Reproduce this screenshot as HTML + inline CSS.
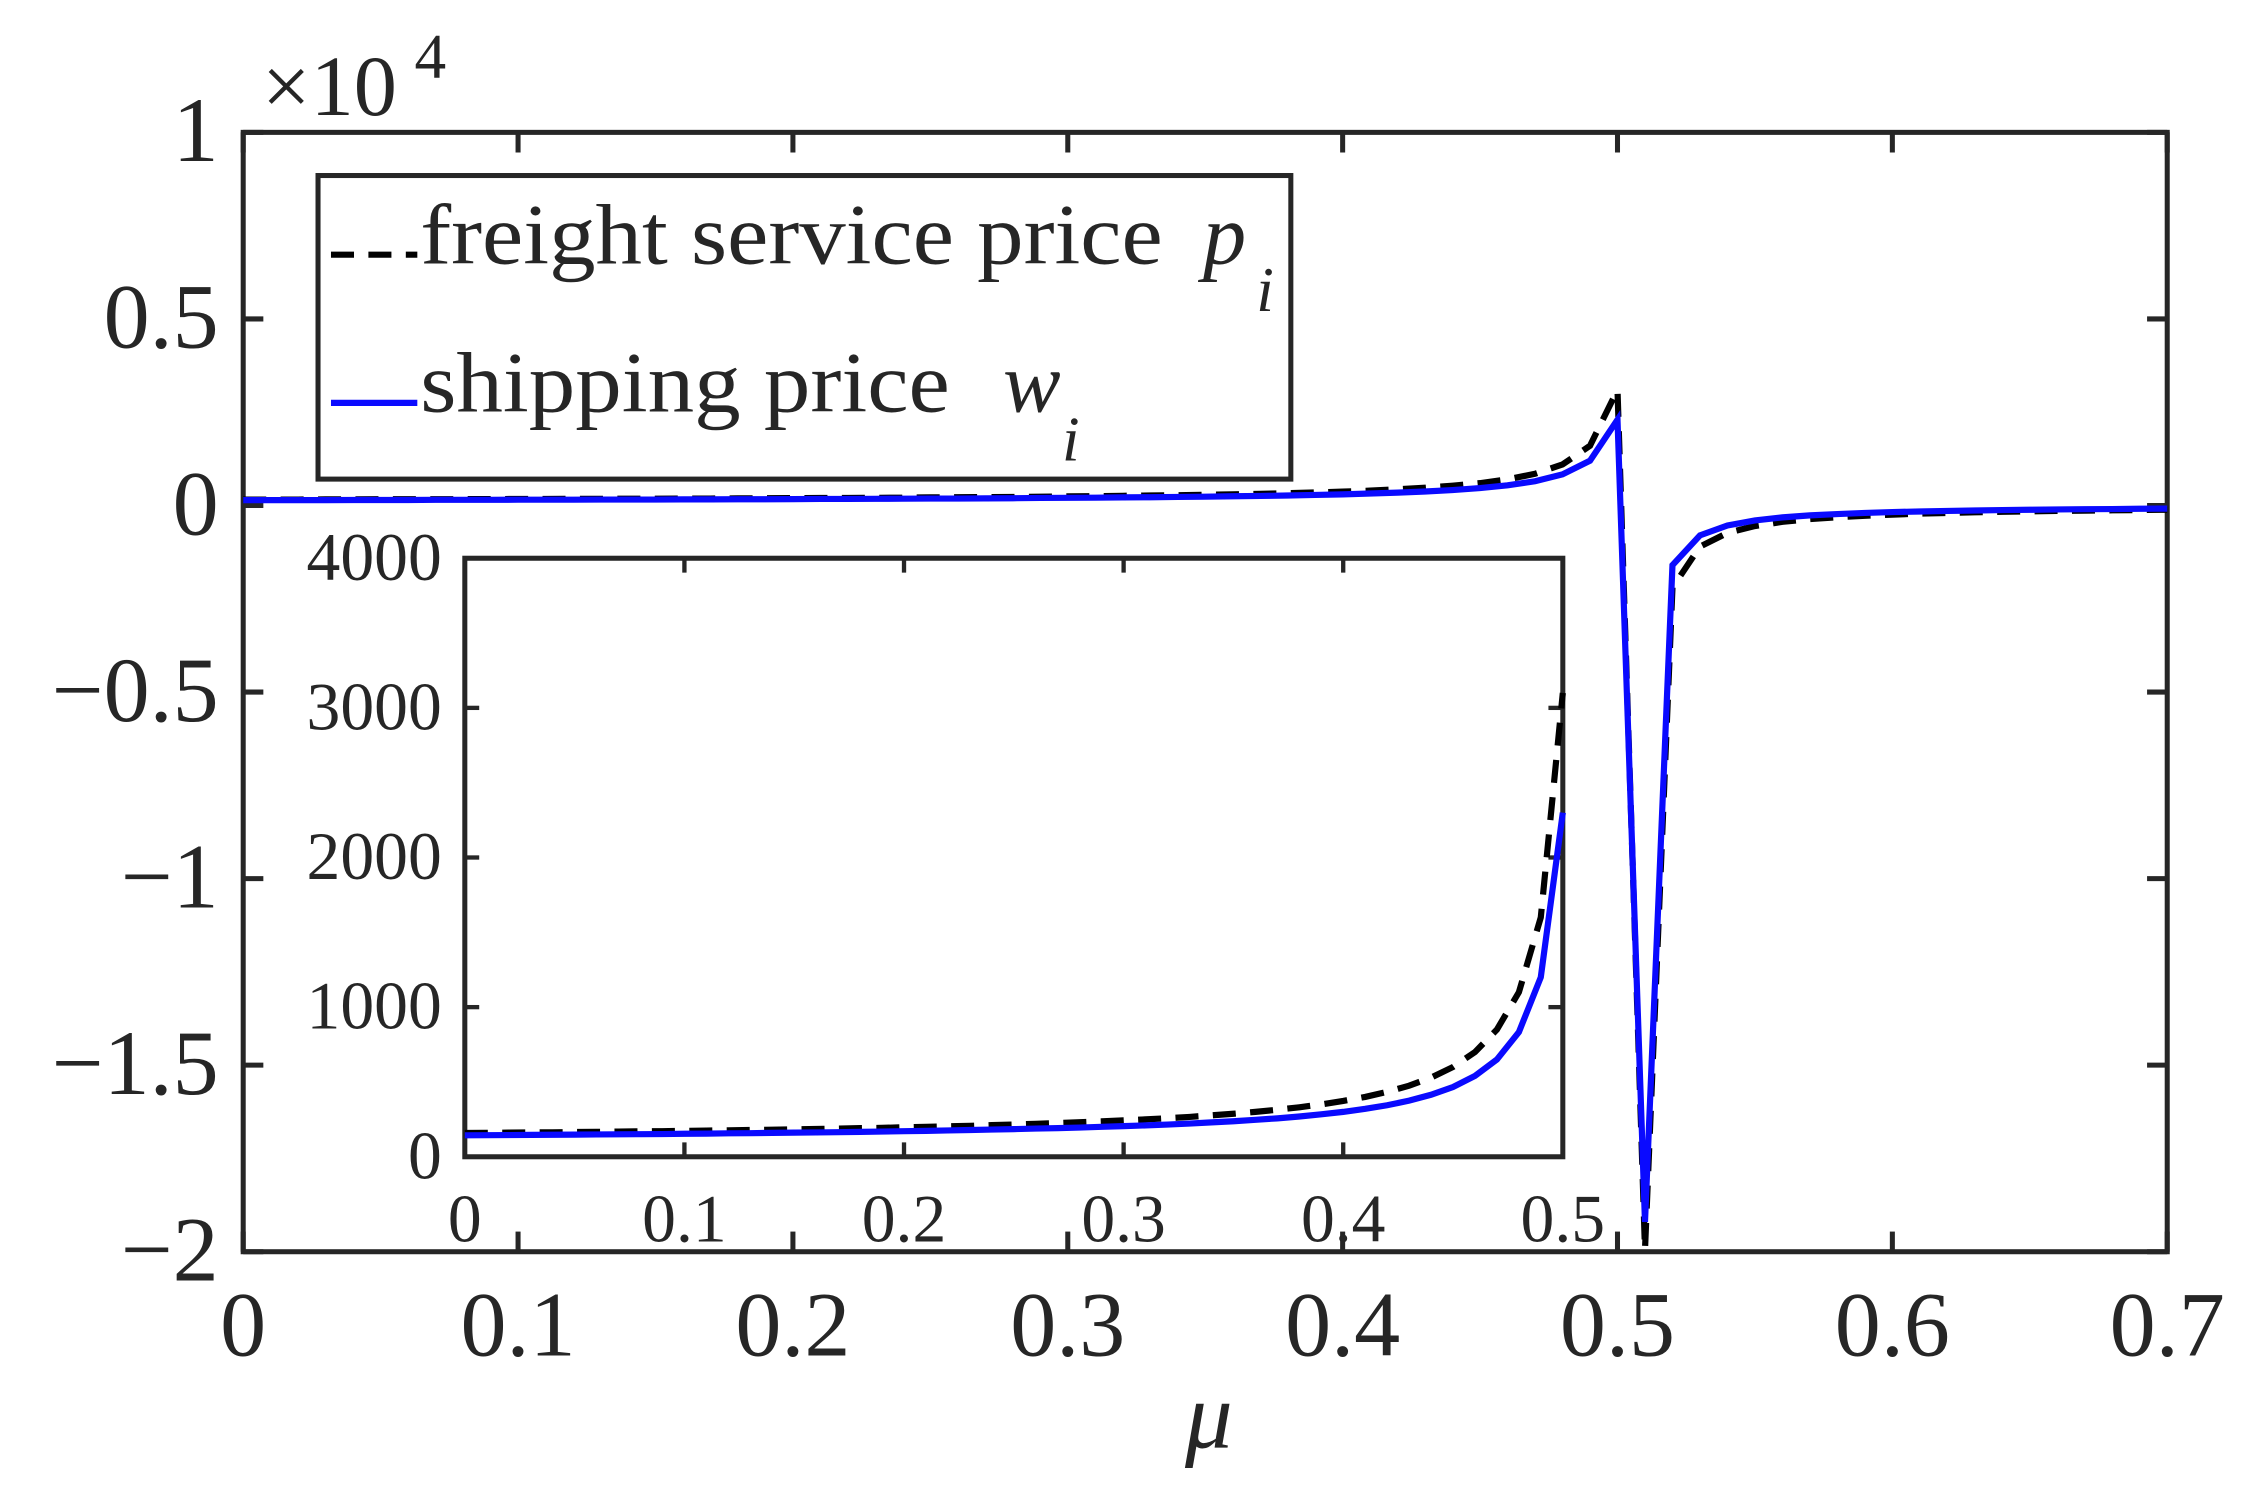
<!DOCTYPE html>
<html><head><meta charset="utf-8"><style>
html,body{margin:0;padding:0;background:#fff;}
svg{display:block;}
text{font-family:"Liberation Serif",serif;fill:#262626;}
</style></head><body>
<svg id="s" width="2255" height="1492" viewBox="0 0 1567 1037" preserveAspectRatio="none" xmlns="http://www.w3.org/2000/svg">
<rect x="0" y="0" width="1567" height="1037" fill="#fff"/>
<g id="main"></g>
</svg>
<script>
const NS="http://www.w3.org/2000/svg";
const s=document.getElementById('main');
function el(t,a,txt){const e=document.createElementNS(NS,t);for(const k in a)e.setAttribute(k,a[k]);if(txt!==undefined)e.textContent=txt;s.appendChild(e);return e;}
const X0=169,X1=1506,Y0=92,Y1=870;
const mx=m=>X0+(X1-X0)*m/0.7, my=v=>Y1-(Y1-Y0)*(v+20000)/30000;
function wf(m){ if(m<=0.5001) return 100+22/(0.51-m); if(Math.abs(m-0.51)<1e-6) return -19200; return -16/(m-0.51);}
function pf(m){ if(m<=0.5001) return 100+30/(0.51-m); if(Math.abs(m-0.51)<1e-6) return -19950; return -22/(m-0.51);}
let pts=[];for(let i=0;i<=70;i++)pts.push(i/100);
function path(f,sx,sy,arr){return arr.map((m,i)=>(i?'L':'M')+sx(m).toFixed(1)+' '+sy(f(m)).toFixed(1)).join(' ');}
el('rect',{x:X0,y:Y0,width:X1-X0,height:Y1-Y0,fill:'#fff',stroke:'#262626','stroke-width':3.5});
for(let i=0;i<=7;i++){const x=mx(i/10);el('line',{x1:x,y1:Y1,x2:x,y2:Y1-14,stroke:'#262626','stroke-width':3.5});el('line',{x1:x,y1:Y0,x2:x,y2:Y0+14,stroke:'#262626','stroke-width':3.5});
el('text',{x:x,y:942,'font-size':64,'text-anchor':'middle'},i?('0.'+i):'0');}
const yl=['1','0.5','0','\u22120.5','\u22121','\u22121.5','\u22122'];
for(let i=0;i<7;i++){const y=Y0+i*(Y1-Y0)/6;el('line',{x1:X0,y1:y,x2:X0+14,y2:y,stroke:'#262626','stroke-width':3.5});el('line',{x1:X1,y1:y,x2:X1-14,y2:y,stroke:'#262626','stroke-width':3.5});
el('text',{x:152,y:y+20,'font-size':64,'text-anchor':'end'},yl[i]);}
el('text',{x:182,y:80,'font-size':60},'\u00d710');
el('text',{x:288,y:54,'font-size':44},'4');
el('text',{x:840,y:1006,'font-size':66,'font-style':'italic','text-anchor':'middle'},'\u03bc');
el('path',{d:path(pf,mx,my,pts),fill:'none',stroke:'#000','stroke-width':4.3,'stroke-dasharray':'16 10'});
el('path',{d:path(wf,mx,my,pts),fill:'none',stroke:'#0a0aff','stroke-width':4.3});
// legend
el('rect',{x:221,y:122,width:676,height:211,fill:'#fff',stroke:'#262626','stroke-width':3.5});
el('line',{x1:230,y1:177,x2:290,y2:177,stroke:'#000','stroke-width':4.3,'stroke-dasharray':'16 10'});
el('line',{x1:230,y1:280,x2:290,y2:280,stroke:'#0a0aff','stroke-width':4.3});
el('text',{x:292,y:183,'font-size':60,fill:'#000',textLength:516,lengthAdjust:'spacingAndGlyphs'},'freight service price');
el('text',{x:836,y:183,'font-size':60,'font-style':'italic'},'p');
el('text',{x:873,y:216,'font-size':44,'font-style':'italic'},'i');
el('text',{x:292,y:286,'font-size':60,textLength:368,lengthAdjust:'spacingAndGlyphs'},'shipping price');
el('text',{x:697,y:286,'font-size':60,'font-style':'italic'},'w');
el('text',{x:738,y:320,'font-size':44,'font-style':'italic'},'i');
// inset
const I0=323,I1=1086,J0=388,J1=804;
const ix=m=>I0+(I1-I0)*m/0.5, iy=v=>J1-(J1-J0)*v/4000;
el('rect',{x:I0,y:J0,width:I1-I0,height:J1-J0,fill:'#fff',stroke:'#262626','stroke-width':3.5});
for(let i=0;i<=5;i++){const x=ix(i/10);el('line',{x1:x,y1:J1,x2:x,y2:J1-10,stroke:'#262626','stroke-width':3});el('line',{x1:x,y1:J0,x2:x,y2:J0+10,stroke:'#262626','stroke-width':3});
el('text',{x:x,y:863,'font-size':47,'text-anchor':'middle'},i?('0.'+i):'0');}
for(let i=0;i<=4;i++){const y=iy(i*1000);el('line',{x1:I0,y1:y,x2:I0+10,y2:y,stroke:'#262626','stroke-width':3});el('line',{x1:I1,y1:y,x2:I1-10,y2:y,stroke:'#262626','stroke-width':3});
el('text',{x:307,y:y+15,'font-size':47,'text-anchor':'end'},i?String(i*1000):'0');}
let ip=[];for(let i=0;i<=50;i++)ip.push(i/100);
el('path',{d:path(pf,ix,iy,ip),fill:'none',stroke:'#000','stroke-width':4.3,'stroke-dasharray':'16 10'});
el('path',{d:path(wf,ix,iy,ip),fill:'none',stroke:'#0a0aff','stroke-width':4.3});
</script>
</body></html>
